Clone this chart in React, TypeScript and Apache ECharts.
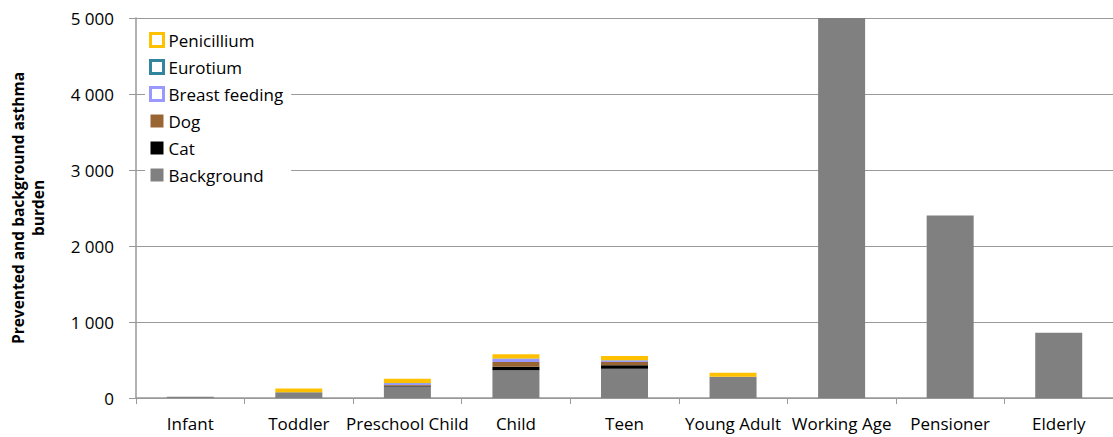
import React, { useEffect, useRef } from "react";
import * as echarts from "echarts";

const categories = ["Infant", "Toddler", "Preschool Child", "Child", "Teen", "Young Adult", "Working Age", "Pensioner", "Elderly"];
const background = [15, 75, 150, 365, 385, 280, 5400, 2400, 860];
const cat = [0, 0, 10, 45, 45, 0, 0, 0, 0];
const dog = [0, 0, 10, 65, 45, 0, 0, 0, 0];
const breastFeeding = [0, 0, 25, 40, 18, 0, 0, 0, 0];
const eurotium = [0, 0, 3, 5, 5, 0, 0, 0, 0];
const penicillium = [0, 50, 55, 57, 53, 53, 0, 0, 0];
const yTicks = [0, 1000, 2000, 3000, 4000, 5000];

const FONT = "'Open Sans', 'Noto Sans', sans-serif";

export default function App() {
  const ref = useRef<HTMLDivElement>(null);
  useEffect(() => {
    if (!ref.current) return;
    const chart = echarts.init(ref.current, null, { renderer: "svg" });
    const mk = (name: string, data: number[], color: string) => ({
      name,
      type: "bar",
      stack: "total",
      data,
      barWidth: 47,
      itemStyle: { color },
      emphasis: { disabled: true },
    });
    chart.setOption({
      animation: false,
      textStyle: { fontFamily: FONT },
      grid: { left: 133, right: 0, top: 18, bottom: 39 },
      legend: {
        orient: "vertical",
        left: 145,
        top: 27,
        itemWidth: 13,
        itemHeight: 13,
        itemGap: 9,
        backgroundColor: "#ffffff",
        padding: [4, 8, 4, 4],
        icon: "rect",
        textStyle: { fontFamily: FONT, fontSize: 17, color: "#000", padding: [0, 0, 0, 0], lineHeight: 18 },
        data: [
          { name: "Penicillium", itemStyle: { color: "#ffffff", borderColor: "#ffc000", borderWidth: 3 } },
          { name: "Eurotium", itemStyle: { color: "#ffffff", borderColor: "#31859c", borderWidth: 3 } },
          { name: "Breast feeding", itemStyle: { color: "#ffffff", borderColor: "#9999ff", borderWidth: 3 } },
          { name: "Dog", itemStyle: { color: "#996633" } },
          { name: "Cat", itemStyle: { color: "#000000" } },
          { name: "Background", itemStyle: { color: "#808080" } },
        ],
      },
      xAxis: {
        type: "category",
        data: categories,
        boundaryGap: true,
        axisLine: { lineStyle: { color: "#999999", width: 1.5 } },
        axisTick: { show: true, length: 6, interval: 0, lineStyle: { color: "#999999" } },
        axisLabel: { interval: 0, fontSize: 17, color: "#000", margin: 17, fontFamily: FONT },
      },
      yAxis: {
        type: "value",
        min: 0,
        max: 5000,
        interval: 1000,
        name: "Prevented and background asthma\nburden",
        nameLocation: "middle",
        nameRotate: 90,
        nameGap: 88,
        nameTextStyle: { fontSize: 15.5, fontWeight: "bold", color: "#000", fontFamily: FONT, lineHeight: 20 },
        axisLine: { show: true, lineStyle: { color: "#999999", width: 1.5 } },
        axisTick: { show: true, length: 7, lineStyle: { color: "#999999" } },
        splitLine: { lineStyle: { color: "#999999", width: 1.2 } },
        axisLabel: {
          fontSize: 17,
          color: "#000",
          margin: 22,
          fontFamily: FONT,
          formatter: (v: number) => (yTicks.includes(v) ? String(v).replace(/\B(?=(\d{3})+(?!\d))/g, " ") : ""),
        },
      },
      series: [
        mk("Background", background, "#808080"),
        mk("Cat", cat, "#000000"),
        mk("Dog", dog, "#996633"),
        mk("Breast feeding", breastFeeding, "#9999ff"),
        mk("Eurotium", eurotium, "#31859c"),
        mk("Penicillium", penicillium, "#ffc000"),
      ],
    });
    return () => chart.dispose();
  }, []);
  return <div ref={ref} style={{ width: 1113, height: 437, position: "absolute", left: 0, top: 0 }} />;
}
